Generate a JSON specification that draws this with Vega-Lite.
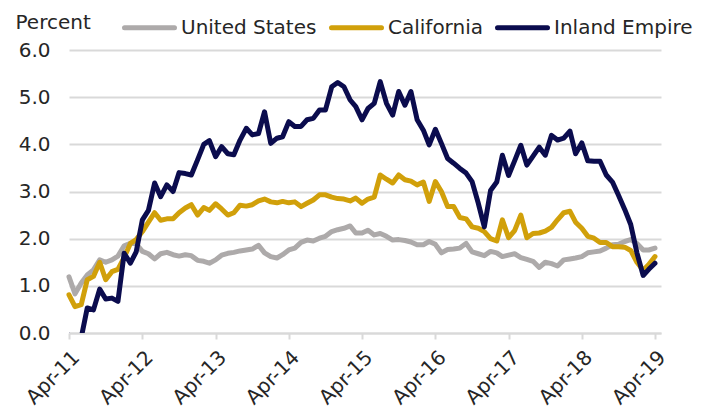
{
  "$schema": "https://vega.github.io/schema/vega-lite/v6.json",
  "width": 592,
  "height": 283,
  "autosize": {"type": "none"},
  "padding": {"left": 69, "top": 50, "right": 46, "bottom": 78},
  "background": "white",
  "config": {"view": {"stroke": null}, "font": "DejaVu Sans"},
  "data": {"values": [
    {"date": "2011-04-01", "United States": 1.19, "California": 0.81, "Inland Empire": -0.05},
    {"date": "2011-05-01", "United States": 0.83, "California": 0.56, "Inland Empire": -0.5},
    {"date": "2011-06-01", "United States": 1.06, "California": 0.60, "Inland Empire": -0.1},
    {"date": "2011-07-01", "United States": 1.23, "California": 1.13, "Inland Empire": 0.53},
    {"date": "2011-08-01", "United States": 1.34, "California": 1.20, "Inland Empire": 0.49},
    {"date": "2011-09-01", "United States": 1.55, "California": 1.50, "Inland Empire": 0.93},
    {"date": "2011-10-01", "United States": 1.50, "California": 1.13, "Inland Empire": 0.72},
    {"date": "2011-11-01", "United States": 1.55, "California": 1.30, "Inland Empire": 0.74},
    {"date": "2011-12-01", "United States": 1.63, "California": 1.35, "Inland Empire": 0.67},
    {"date": "2012-01-01", "United States": 1.85, "California": 1.60, "Inland Empire": 1.69},
    {"date": "2012-02-01", "United States": 1.90, "California": 1.90, "Inland Empire": 1.48},
    {"date": "2012-03-01", "United States": 1.89, "California": 1.98, "Inland Empire": 1.72},
    {"date": "2012-04-01", "United States": 1.73, "California": 2.15, "Inland Empire": 2.40},
    {"date": "2012-05-01", "United States": 1.68, "California": 2.35, "Inland Empire": 2.60},
    {"date": "2012-06-01", "United States": 1.57, "California": 2.55, "Inland Empire": 3.18},
    {"date": "2012-07-01", "United States": 1.68, "California": 2.39, "Inland Empire": 2.89},
    {"date": "2012-08-01", "United States": 1.71, "California": 2.42, "Inland Empire": 3.14},
    {"date": "2012-09-01", "United States": 1.66, "California": 2.42, "Inland Empire": 3.00},
    {"date": "2012-10-01", "United States": 1.63, "California": 2.55, "Inland Empire": 3.40},
    {"date": "2012-11-01", "United States": 1.66, "California": 2.65, "Inland Empire": 3.38},
    {"date": "2012-12-01", "United States": 1.64, "California": 2.72, "Inland Empire": 3.35},
    {"date": "2013-01-01", "United States": 1.54, "California": 2.50, "Inland Empire": 3.67},
    {"date": "2013-02-01", "United States": 1.52, "California": 2.66, "Inland Empire": 4.00},
    {"date": "2013-03-01", "United States": 1.48, "California": 2.60, "Inland Empire": 4.08},
    {"date": "2013-04-01", "United States": 1.55, "California": 2.74, "Inland Empire": 3.74},
    {"date": "2013-05-01", "United States": 1.65, "California": 2.63, "Inland Empire": 3.95},
    {"date": "2013-06-01", "United States": 1.69, "California": 2.50, "Inland Empire": 3.80},
    {"date": "2013-07-01", "United States": 1.71, "California": 2.55, "Inland Empire": 3.78},
    {"date": "2013-08-01", "United States": 1.74, "California": 2.71, "Inland Empire": 4.09},
    {"date": "2013-09-01", "United States": 1.76, "California": 2.69, "Inland Empire": 4.34},
    {"date": "2013-10-01", "United States": 1.78, "California": 2.72, "Inland Empire": 4.20},
    {"date": "2013-11-01", "United States": 1.86, "California": 2.80, "Inland Empire": 4.23},
    {"date": "2013-12-01", "United States": 1.70, "California": 2.84, "Inland Empire": 4.69},
    {"date": "2014-01-01", "United States": 1.62, "California": 2.78, "Inland Empire": 4.02},
    {"date": "2014-02-01", "United States": 1.59, "California": 2.76, "Inland Empire": 4.13},
    {"date": "2014-03-01", "United States": 1.66, "California": 2.79, "Inland Empire": 4.16},
    {"date": "2014-04-01", "United States": 1.76, "California": 2.76, "Inland Empire": 4.48},
    {"date": "2014-05-01", "United States": 1.80, "California": 2.78, "Inland Empire": 4.38},
    {"date": "2014-06-01", "United States": 1.92, "California": 2.68, "Inland Empire": 4.38},
    {"date": "2014-07-01", "United States": 1.97, "California": 2.75, "Inland Empire": 4.52},
    {"date": "2014-08-01", "United States": 1.95, "California": 2.82, "Inland Empire": 4.55},
    {"date": "2014-09-01", "United States": 2.01, "California": 2.93, "Inland Empire": 4.73},
    {"date": "2014-10-01", "United States": 2.05, "California": 2.93, "Inland Empire": 4.73},
    {"date": "2014-11-01", "United States": 2.15, "California": 2.88, "Inland Empire": 5.22},
    {"date": "2014-12-01", "United States": 2.19, "California": 2.85, "Inland Empire": 5.31},
    {"date": "2015-01-01", "United States": 2.22, "California": 2.84, "Inland Empire": 5.22},
    {"date": "2015-02-01", "United States": 2.27, "California": 2.80, "Inland Empire": 4.94},
    {"date": "2015-03-01", "United States": 2.12, "California": 2.86, "Inland Empire": 4.80},
    {"date": "2015-04-01", "United States": 2.12, "California": 2.75, "Inland Empire": 4.52},
    {"date": "2015-05-01", "United States": 2.18, "California": 2.84, "Inland Empire": 4.76},
    {"date": "2015-06-01", "United States": 2.08, "California": 2.88, "Inland Empire": 4.87},
    {"date": "2015-07-01", "United States": 2.11, "California": 3.35, "Inland Empire": 5.33},
    {"date": "2015-08-01", "United States": 2.05, "California": 3.26, "Inland Empire": 4.87},
    {"date": "2015-09-01", "United States": 1.97, "California": 3.18, "Inland Empire": 4.62},
    {"date": "2015-10-01", "United States": 1.98, "California": 3.35, "Inland Empire": 5.12},
    {"date": "2015-11-01", "United States": 1.96, "California": 3.25, "Inland Empire": 4.83},
    {"date": "2015-12-01", "United States": 1.93, "California": 3.22, "Inland Empire": 5.12},
    {"date": "2016-01-01", "United States": 1.87, "California": 3.14, "Inland Empire": 4.52},
    {"date": "2016-02-01", "United States": 1.87, "California": 3.20, "Inland Empire": 4.30},
    {"date": "2016-03-01", "United States": 1.94, "California": 2.79, "Inland Empire": 3.99},
    {"date": "2016-04-01", "United States": 1.88, "California": 3.21, "Inland Empire": 4.32},
    {"date": "2016-05-01", "United States": 1.70, "California": 3.00, "Inland Empire": 4.02},
    {"date": "2016-06-01", "United States": 1.77, "California": 2.68, "Inland Empire": 3.70},
    {"date": "2016-07-01", "United States": 1.78, "California": 2.68, "Inland Empire": 3.60},
    {"date": "2016-08-01", "United States": 1.80, "California": 2.45, "Inland Empire": 3.49},
    {"date": "2016-09-01", "United States": 1.90, "California": 2.42, "Inland Empire": 3.39},
    {"date": "2016-10-01", "United States": 1.72, "California": 2.25, "Inland Empire": 3.21},
    {"date": "2016-11-01", "United States": 1.68, "California": 2.22, "Inland Empire": 2.75},
    {"date": "2016-12-01", "United States": 1.64, "California": 2.15, "Inland Empire": 2.25},
    {"date": "2017-01-01", "United States": 1.73, "California": 2.00, "Inland Empire": 3.02},
    {"date": "2017-02-01", "United States": 1.70, "California": 1.95, "Inland Empire": 3.20},
    {"date": "2017-03-01", "United States": 1.62, "California": 2.40, "Inland Empire": 3.77},
    {"date": "2017-04-01", "United States": 1.65, "California": 2.02, "Inland Empire": 3.34},
    {"date": "2017-05-01", "United States": 1.68, "California": 2.17, "Inland Empire": 3.65},
    {"date": "2017-06-01", "United States": 1.60, "California": 2.50, "Inland Empire": 3.98},
    {"date": "2017-07-01", "United States": 1.56, "California": 2.02, "Inland Empire": 3.56},
    {"date": "2017-08-01", "United States": 1.52, "California": 2.11, "Inland Empire": 3.75},
    {"date": "2017-09-01", "United States": 1.39, "California": 2.12, "Inland Empire": 3.94},
    {"date": "2017-10-01", "United States": 1.50, "California": 2.16, "Inland Empire": 3.77},
    {"date": "2017-11-01", "United States": 1.47, "California": 2.24, "Inland Empire": 4.19},
    {"date": "2017-12-01", "United States": 1.42, "California": 2.40, "Inland Empire": 4.09},
    {"date": "2018-01-01", "United States": 1.55, "California": 2.55, "Inland Empire": 4.13},
    {"date": "2018-02-01", "United States": 1.57, "California": 2.58, "Inland Empire": 4.28},
    {"date": "2018-03-01", "United States": 1.59, "California": 2.35, "Inland Empire": 3.80},
    {"date": "2018-04-01", "United States": 1.62, "California": 2.22, "Inland Empire": 4.03},
    {"date": "2018-05-01", "United States": 1.70, "California": 2.05, "Inland Empire": 3.65},
    {"date": "2018-06-01", "United States": 1.72, "California": 2.01, "Inland Empire": 3.64},
    {"date": "2018-07-01", "United States": 1.74, "California": 1.92, "Inland Empire": 3.64},
    {"date": "2018-08-01", "United States": 1.80, "California": 1.92, "Inland Empire": 3.35},
    {"date": "2018-09-01", "United States": 1.87, "California": 1.83, "Inland Empire": 3.20},
    {"date": "2018-10-01", "United States": 1.88, "California": 1.83, "Inland Empire": 2.92},
    {"date": "2018-11-01", "United States": 1.94, "California": 1.82, "Inland Empire": 2.62},
    {"date": "2018-12-01", "United States": 1.98, "California": 1.75, "Inland Empire": 2.30},
    {"date": "2019-01-01", "United States": 1.90, "California": 1.50, "Inland Empire": 1.70},
    {"date": "2019-02-01", "United States": 1.76, "California": 1.33, "Inland Empire": 1.22},
    {"date": "2019-03-01", "United States": 1.76, "California": 1.45, "Inland Empire": 1.35},
    {"date": "2019-04-01", "United States": 1.80, "California": 1.62, "Inland Empire": 1.48}
  ]},
  "transform": [{"fold": ["United States", "California", "Inland Empire"], "as": ["series", "value"]}],
  "encoding": {
    "x": {
      "field": "date", "type": "temporal",
      "scale": {"type": "utc", "domain": [{"year": 2011, "month": 4, "date": 1, "utc": true}, {"year": 2019, "month": 5, "date": 1, "utc": true}]},
      "axis": {
        "values": [
          {"year": 2011, "month": 4, "date": 1, "utc": true},
          {"year": 2012, "month": 4, "date": 1, "utc": true},
          {"year": 2013, "month": 4, "date": 1, "utc": true},
          {"year": 2014, "month": 4, "date": 1, "utc": true},
          {"year": 2015, "month": 4, "date": 1, "utc": true},
          {"year": 2016, "month": 4, "date": 1, "utc": true},
          {"year": 2017, "month": 4, "date": 1, "utc": true},
          {"year": 2018, "month": 4, "date": 1, "utc": true},
          {"year": 2019, "month": 4, "date": 1, "utc": true}
        ],
        "format": "%b-%y",
        "title": null,
        "grid": false,
        "labelAngle": -45,
        "labelAlign": "right",
        "labelBaseline": "top",
        "labelFontSize": 20,
        "labelColor": "#262626",
        "labelPadding": 8,
        "labelFlush": false,
        "labelOverlap": false,
        "domainColor": "#d9d9d9",
        "domainWidth": 2,
        "tickColor": "#d9d9d9",
        "tickWidth": 2,
        "tickSize": 6
      }
    },
    "y": {
      "field": "value", "type": "quantitative",
      "scale": {"domain": [0, 6], "nice": false, "zero": false},
      "axis": {
        "values": [0, 1, 2, 3, 4, 5, 6],
        "format": ".1f",
        "domain": false,
        "ticks": false,
        "gridColor": "#d9d9d9",
        "gridWidth": 2,
        "labelFontSize": 20,
        "labelColor": "#262626",
        "labelPadding": 19,
        "title": "Percent",
        "titleAngle": 0,
        "titleX": -54,
        "titleY": -22,
        "titleAlign": "left",
        "titleBaseline": "alphabetic",
        "titleFontSize": 20,
        "titleFontWeight": "normal",
        "titleColor": "#262626"
      }
    },
    "color": {
      "field": "series", "type": "nominal",
      "scale": {"domain": ["United States", "California", "Inland Empire"], "range": ["#adaaaa", "#d1a00a", "#0b0c4e"]},
      "legend": {
        "orient": "none",
        "legendX": 53,
        "legendY": -50,
        "direction": "horizontal",
        "title": null,
        "symbolType": "stroke",
        "symbolSize": 2500,
        "symbolStrokeWidth": 5,
        "labelFontSize": 20,
        "labelColor": "#262626",
        "labelOffset": 4,
        "columnPadding": 4,
        "encode": {"symbols": {"update": {"strokeCap": {"value": "round"}}}}
      }
    }
  },
  "layer": [
    {
      "transform": [{"filter": "datum.series !== 'Inland Empire'"}],
      "mark": {"type": "line", "strokeWidth": 5, "strokeJoin": "round", "strokeCap": "round"}
    },
    {
      "transform": [{"filter": "datum.series === 'Inland Empire'"}],
      "mark": {"type": "line", "strokeWidth": 5, "clip": true, "strokeJoin": "round", "strokeCap": "round"}
    }
  ]
}
